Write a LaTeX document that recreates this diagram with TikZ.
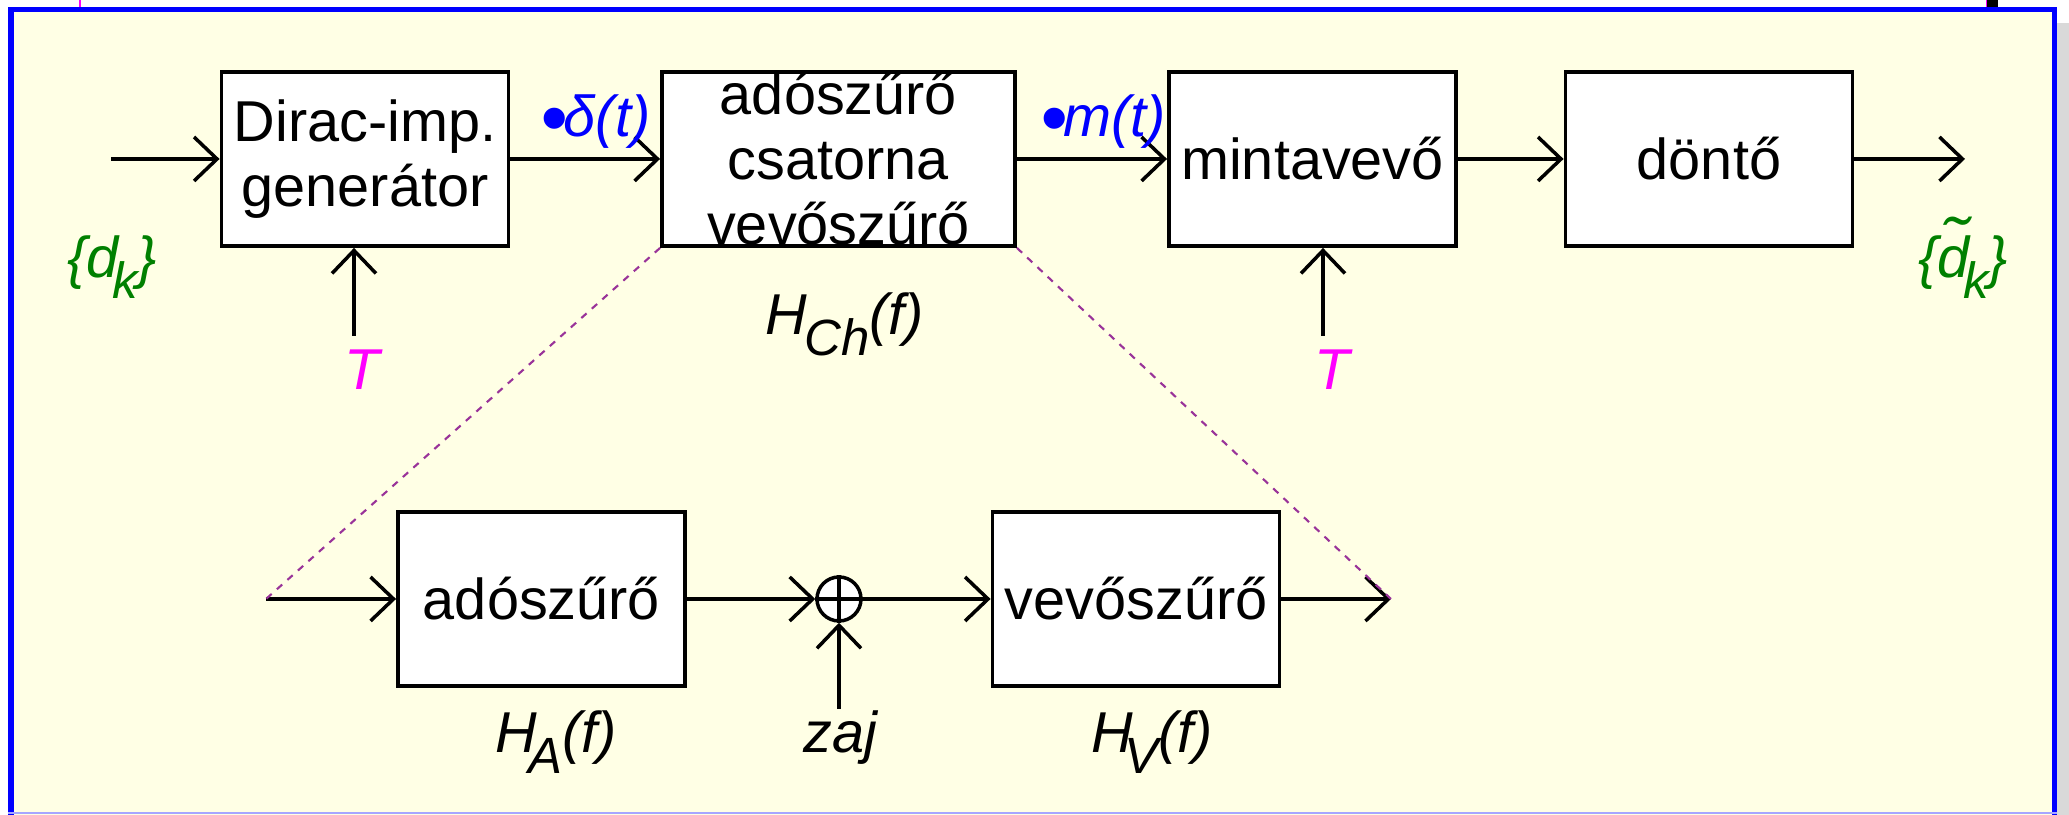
\documentclass[tikz,border=0pt]{standalone}
\usepackage{fontspec}
\setmainfont{Liberation Sans}
\usetikzlibrary{arrows.meta}

\definecolor{hatter}{RGB}{255,255,229}
\definecolor{keret}{RGB}{0,0,255}
\definecolor{zold}{RGB}{0,128,0}
\definecolor{bibor}{RGB}{255,0,255}
\definecolor{lila}{RGB}{153,51,153}
\definecolor{arnyek}{RGB}{217,217,217}

\newcommand{\nagy}{\fontsize{16.4}{18.5}\selectfont}
\newcommand{\lo}[2][-0.05em]{\kern#1\raisebox{-0.35em}{\fontsize{14.5}{16}\selectfont #2}}
\newcommand{\tld}[1]{\ooalign{#1\cr\hidewidth\raisebox{0.26em}{\scalebox{1.35}[1.1]{\char"02DC}}\hidewidth\cr}}
\newcommand{\pont}{\makebox[0.4em][l]{\raisebox{-2pt}{\scalebox{1.35}{•}}}}

\tikzstyle{block} = [draw, line width=1.1pt, fill=white, minimum width=2.87cm, minimum height=1.74cm, inner sep=0pt, font=\nagy, align=center]
\tikzstyle{adder} = [draw, circle, line width=1pt, fill=white, minimum size=0.44cm, inner sep=0pt]
\tikzstyle{lbl} = [inner sep=0pt, font=\nagy\itshape, anchor=base west]
\tikzstyle{conn} = [line width=1pt, -{Straight Barb[length=2.3mm, width=4.4mm]}]
\tikzstyle{zoomline} = [lila, line width=0.6pt, dash pattern=on 2pt off 2pt]

\begin{document}
\begin{tikzpicture}
% keret
\useasboundingbox (0,0) rectangle (20.69,8.15);
\fill[white] (0,0) rectangle (20.69,8.15);
\fill[arnyek] (20.57,0) rectangle (20.69,7.92);
\fill[hatter] (0.11,0) rectangle (20.545,8.055);
\draw[keret, line width=1.45pt] (0.11,-0.2) |- (20.545,8.055) -- (20.545,-0.2);
\draw[keret!35, line width=0.6pt] (0.08,0.02) -- (20.57,0.02);
\draw[bibor, line width=0.5pt] (0.80,8.08) -- (0.80,8.15);
\fill[bibor] (19.855,8.08) rectangle (19.87,8.15);
\fill[black] (19.87,8.08) rectangle (19.98,8.15);

% felso sor
\node[block] (dirac) at (3.65,6.56) {Dirac-imp.\\generátor};
\node[block, minimum width=3.53cm] (ch) at (8.385,6.56) {};
\node[font=\nagy, align=center] (chtext) at (ch) {adószűrő\\csatorna\\vevőszűrő};
\node[block] (minta) at (13.125,6.56) {mintavevő};
\node[block] (dont) at (17.09,6.56) {döntő};
\coordinate (be1) at (1.11,6.56);
\coordinate (ki1) at (19.65,6.56);
\coordinate (t1) at (3.54,4.79);
\coordinate (t2) at (13.23,4.79);
\draw[conn] (be1) -- (dirac);
\draw[conn] (dirac) -- (ch);
\draw[conn] (ch) -- (minta);
\draw[conn] (minta) -- (dont);
\draw[conn] (dont) -- (ki1);
\draw[conn] (t1) -- (t1 |- dirac.south);
\draw[conn] (t2) -- (t2 |- minta.south);

\node[lbl, zold] (dk) at (0.67,5.37) {\{d\lo[-0.12em]{k}\}};
\node[lbl, zold] (dkt) at (19.18,5.37) {\{\tld{d}\lo[-0.12em]{k}\}};
\node[lbl, bibor, anchor=base] (tl1) at (3.62,4.25) {T};
\node[lbl, bibor, anchor=base] (tl2) at (13.32,4.25) {T};
\node[lbl, keret] (delta) at (5.40,6.78) {\pont δ(t)};
\node[lbl, keret] (mt) at (10.40,6.78) {\pont m(t)};
\node[lbl] (hch) at (7.65,4.80) {H\lo{Ch}(f)};

% also sor
\node[block] (ado) at (5.415,2.16) {adószűrő};
\node[adder] (sum) at (8.39,2.16) {};
\draw[line width=1pt] (sum.north) -- (sum.south) (sum.west) -- (sum.east);
\node[block] (vevo) at (11.36,2.16) {vevőszűrő};
\coordinate (be2) at (2.66,2.16);
\coordinate (ki2) at (13.91,2.16);
\coordinate (zaj) at (8.39,1.06);
\draw[conn] (be2) -- (ado);
\draw[conn] (ado) -- (sum);
\draw[conn] (zaj) -- (sum);
\draw[conn] (sum) -- (vevo);
\draw[conn] (vevo) -- (ki2);
\draw[zoomline] (ch.south west) -- (be2);
\draw[zoomline] (ch.south east) -- (ki2);

\node[lbl] (ha) at (4.95,0.62) {H\lo[-0.15em]{A}(f)};
\node[lbl] (zajl) at (8.03,0.62) {zaj};
\node[lbl] (hv) at (10.91,0.62) {H\lo[-0.15em]{V}(f)};
\end{tikzpicture}
\end{document}
